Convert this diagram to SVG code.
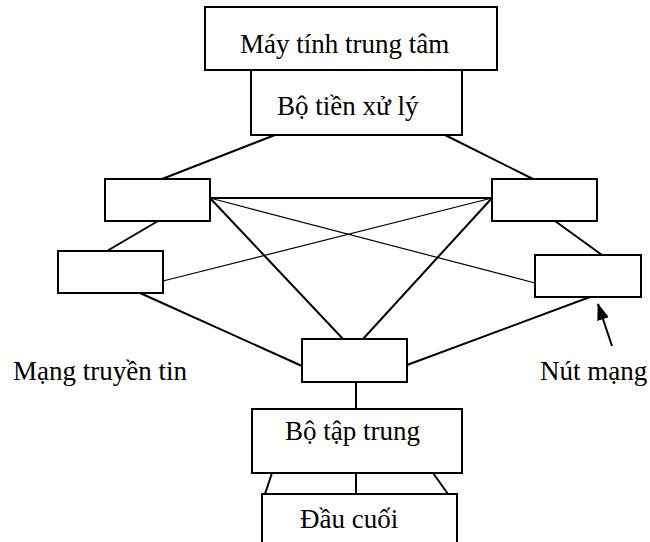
<svg xmlns="http://www.w3.org/2000/svg" width="650" height="542" viewBox="0 0 650 542">
  <style>
    .box { fill: #fff; stroke: #000; stroke-width: 2; }
    .lbl { font-family: 'Liberation Serif', 'DejaVu Serif', 'Times New Roman', serif; font-size: 27px; fill: #000; }
    .ln { stroke: #000; stroke-width: 2; fill: none; }
    .thin { stroke: #000; stroke-width: 1.2; fill: none; }
  </style>
  <defs>
    <marker id="arrow" viewBox="0 0 17 12" refX="16" refY="6" markerWidth="17" markerHeight="12" orient="auto" markerUnits="userSpaceOnUse">
      <path d="M0,0 L17,6 L0,12 z" fill="#000"/>
    </marker>
  </defs>

  <!-- connectors -->
  <g id="connectors">
    <line class="ln" x1="275" y1="135" x2="162" y2="179"/>
    <line class="ln" x1="445" y1="135" x2="533" y2="179"/>
    <line class="ln" x1="210" y1="198" x2="492" y2="198"/>
    <line class="thin" x1="210" y1="198" x2="535" y2="283"/>
    <line class="ln" x1="210" y1="198" x2="343" y2="339"/>
    <line class="ln" x1="492" y1="198" x2="363" y2="339"/>
    <line class="thin" x1="163" y1="281" x2="492" y2="198"/>
    <line class="ln" x1="158" y1="221" x2="107" y2="251"/>
    <line class="ln" x1="555" y1="221" x2="602" y2="255"/>
    <line class="ln" x1="140" y1="293" x2="302" y2="366"/>
    <line class="ln" x1="590" y1="297" x2="407" y2="365"/>
    <line class="ln" x1="356" y1="382" x2="356" y2="409"/>
    <line class="ln" x1="272" y1="473" x2="265" y2="494"/>
    <line class="ln" x1="356" y1="473" x2="356" y2="494"/>
    <line class="ln" x1="433" y1="473" x2="448" y2="494"/>
    <line class="ln" x1="612" y1="346" x2="598" y2="304" marker-end="url(#arrow)"/>
  </g>

  <g id="may-tinh-trung-tam">
    <rect class="box" x="205" y="7" width="292" height="63"/>
    <text class="lbl" x="240" y="53">Máy tính trung tâm</text>
  </g>
  <g id="bo-tien-xu-ly">
    <rect class="box" x="251" y="70" width="211" height="65"/>
    <text class="lbl" x="277" y="115">Bộ tiền xử lý</text>
  </g>
  <g id="nut-trai-tren">
    <rect class="box" x="105" y="179" width="105" height="42"/>
  </g>
  <g id="nut-phai-tren">
    <rect class="box" x="492" y="179" width="105" height="42"/>
  </g>
  <g id="nut-trai-duoi">
    <rect class="box" x="58" y="251" width="105" height="42"/>
  </g>
  <g id="nut-phai-duoi">
    <rect class="box" x="535" y="255" width="106" height="42"/>
  </g>
  <g id="nut-giua">
    <rect class="box" x="302" y="339" width="105" height="43"/>
  </g>
  <g id="bo-tap-trung">
    <rect class="box" x="252" y="409" width="210" height="64"/>
    <text class="lbl" x="285" y="440">Bộ tập trung</text>
  </g>
  <g id="dau-cuoi">
    <rect class="box" x="262" y="494" width="195" height="52"/>
    <text class="lbl" x="300" y="528">Đầu cuối</text>
  </g>

  <g id="labels">
    <text class="lbl" x="13" y="380">Mạng truyền tin</text>
    <text class="lbl" x="540" y="380">Nút mạng</text>
  </g>
</svg>
